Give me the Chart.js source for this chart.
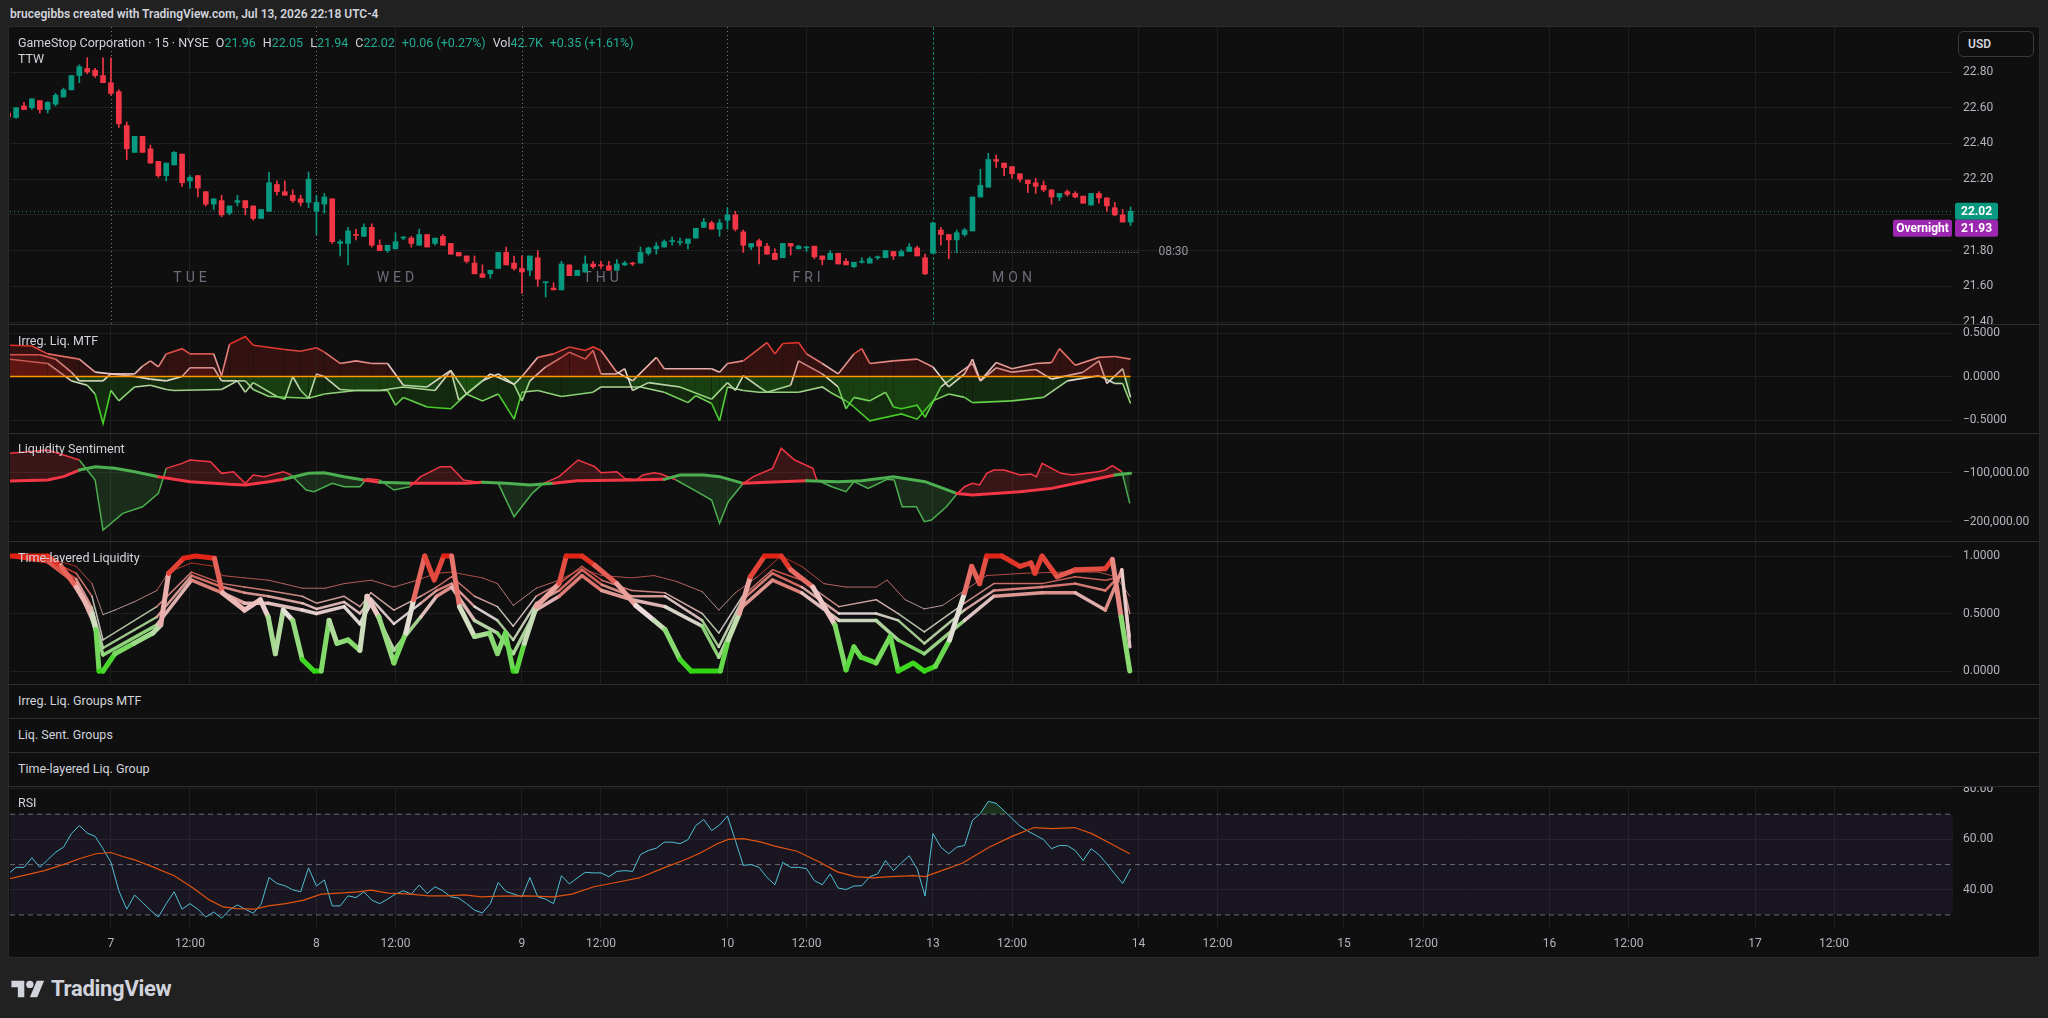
<!DOCTYPE html>
<html>
<head>
<meta charset="utf-8">
<script src="https://cdn.jsdelivr.net/npm/chart.js@4.4.1/dist/chart.umd.min.js"></script>
<style>
  html, body { margin: 0; padding: 0; }
  body { width: 2048px; height: 1018px; background: #212121; overflow: hidden; position: relative;
         font-family: Roboto, "Liberation Sans", sans-serif; color: #d1d4dc; }
  #hdr { position: absolute; left: 10px; top: 7px; font-size: 12px; font-weight: 600; color: #d1d4dc; }
  #frame { position: absolute; left: 8px; top: 26px; width: 2032px; height: 932px; box-sizing: border-box;
           background: #0f0f0f; border: 1px solid #2a2a2a; }
  .pane { position: absolute; left: 10px; width: 2028px; z-index: 1; }
  .sep { position: absolute; left: 9px; width: 2030px; height: 1px; background: #2f2f2f; z-index: 2; }
  .lbl { position: absolute; font-size: 12.5px; color: #d1d4dc; transform: translateY(-50%); white-space: nowrap; z-index: 3; }
  #title { display: flex; gap: 7px; }
  .v { color: #22ab94; }
  #usd { position: absolute; left: 1958px; top: 31px; width: 76px; height: 26px; box-sizing: border-box;
         border: 1px solid #3a3a3a; border-radius: 5px; background: #0f0f0f; z-index: 3;
         font-size: 12px; font-weight: 600; line-height: 24px; padding-left: 9px; color: #d1d4dc; }
  #logo { position: absolute; left: 11px; top: 976px; display: flex; align-items: center; gap: 6px; z-index: 3; }
  #logo span { font-size: 22px; font-weight: 700; color: #d1d4dc; letter-spacing: -0.3px; }
</style>
</head>
<body>
<div id="hdr">brucegibbs created with TradingView.com, Jul 13, 2026 22:18 UTC-4</div>
<div id="frame"></div>

<div class="pane" style="top:27px;height:297px"><canvas id="cPrice"></canvas></div>
<div class="sep" style="top:324px"></div>
<div class="pane" style="top:325px;height:108px"><canvas id="cIrreg"></canvas></div>
<div class="sep" style="top:433px"></div>
<div class="pane" style="top:434px;height:107px"><canvas id="cSent"></canvas></div>
<div class="sep" style="top:541px"></div>
<div class="pane" style="top:542px;height:142px"><canvas id="cTll"></canvas></div>
<div class="sep" style="top:684px"></div>
<div class="sep" style="top:718px"></div>
<div class="sep" style="top:752px"></div>
<div class="sep" style="top:786px"></div>
<div class="pane" style="top:787px;height:170px"><canvas id="cRsi"></canvas></div>

<div class="lbl" id="title" style="top:42px;left:18px">
  <span>GameStop Corporation · 15 · NYSE</span>
  <span>O<span class="v">21.96</span></span>
  <span>H<span class="v">22.05</span></span>
  <span>L<span class="v">21.94</span></span>
  <span>C<span class="v">22.02</span></span>
  <span class="v">+0.06 (+0.27%)</span>
  <span>Vol<span class="v">42.7K</span></span>
  <span class="v">+0.35 (+1.61%)</span>
</div>
<div class="lbl" style="top:58px;left:18px">TTW</div>
<div id="usd">USD</div>

<div class="lbl" style="top:340px;left:18px">Irreg. Liq. MTF</div>
<div class="lbl" style="top:448px;left:18px">Liquidity Sentiment</div>
<div class="lbl" style="top:557px;left:18px">Time-layered Liquidity</div>
<div class="lbl" style="top:700px;left:18px">Irreg. Liq. Groups MTF</div>
<div class="lbl" style="top:734px;left:18px">Liq. Sent. Groups</div>
<div class="lbl" style="top:768px;left:18px">Time-layered Liq. Group</div>
<div class="lbl" style="top:802px;left:18px">RSI</div>

<div id="logo">
  <svg width="34" height="24" viewBox="0 0 36 26"><path d="M14 22H7V11H0V4h14v18z" fill="#d1d4dc"/><circle cx="20" cy="8" r="4" fill="#d1d4dc"/><path d="M28 22h-8l7.5-18h8z" fill="#d1d4dc"/></svg>
  <span>TradingView</span>
</div>

<script>
const GREEN = '#089981';
const RED = '#f23645';
const GRID = '#1f1f1f';
const TEXT = '#b2b5be';
const FONT = 'Roboto, "Liberation Sans", sans-serif';
Chart.defaults.font.family = FONT;

// ---- time axis (bar index units, 26 bars of 15 min per session) ----
const xMin = 0.23, xMax = 246.05;
const timeTickPos = [13, 23, 39, 49, 65, 75, 91, 101, 117, 127, 143, 153, 169, 179, 195, 205, 221, 231];
const timeTickLabels = ['7', '12:00', '8', '12:00', '9', '12:00', '10', '12:00', '13', '12:00', '14', '12:00', '15', '12:00', '16', '12:00', '17', '12:00'];
const sessionStarts = [13, 39, 65, 91, 117];
const weekdayPos = [23, 49, 75, 101, 127];
const weekdayNames = ['TUE', 'WED', 'THU', 'FRI', 'MON'];

// ---- candles ----
const opens = [
  22.57,22.545,22.61,22.60,22.64,22.59,22.62,22.66,22.70,22.78,
  22.82,22.81,22.78,22.74,22.69,22.50,22.35,22.44,22.37,22.30,
  22.22,22.28,22.34,22.19,22.22,22.13,22.06,22.08,22.01,22.07,
  22.08,22.05,21.98,22.02,22.17,22.13,22.11,22.09,22.07,22.02,
  22.06,22.09,21.84,21.84,21.89,21.88,21.93,21.83,21.80,21.81,
  21.87,21.87,21.83,21.89,21.84,21.88,21.84,21.79,21.77,21.73,
  21.67,21.67,21.70,21.79,21.73,21.70,21.69,21.76,21.62,21.59,
  21.58,21.72,21.66,21.68,21.725,21.72,21.715,21.69,21.72,21.73,
  21.73,21.785,21.81,21.82,21.85,21.845,21.84,21.87,21.93,21.955,
  21.92,21.97,22.00,21.905,21.82,21.855,21.825,21.785,21.76,21.84,
  21.81,21.815,21.825,21.77,21.75,21.785,21.74,21.71,21.735,21.73,
  21.76,21.76,21.795,21.77,21.795,21.815,21.76,21.785,21.915,21.89,
  21.86,21.89,21.91,22.10,22.155,22.31,22.29,22.27,22.23,22.195,
  22.18,22.165,22.14,22.10,22.13,22.12,22.105,22.055,22.12,22.095,
  22.04,22.00,21.96
];
const highs = [
  22.58,22.60,22.63,22.65,22.64,22.635,22.68,22.71,22.78,22.84,
  22.88,22.82,22.88,22.88,22.70,22.52,22.44,22.44,22.39,22.30,
  22.29,22.355,22.34,22.22,22.22,22.13,22.09,22.11,22.05,22.11,
  22.08,22.05,22.03,22.24,22.19,22.19,22.14,22.11,22.24,22.11,
  22.12,22.09,21.86,21.93,21.92,21.95,21.95,21.86,21.83,21.90,
  21.88,21.88,21.92,21.89,21.87,21.89,21.84,21.79,21.77,21.77,
  21.72,21.69,21.79,21.82,21.77,21.77,21.77,21.80,21.625,21.62,
  21.74,21.72,21.69,21.77,21.74,21.74,21.74,21.75,21.74,21.735,
  21.82,21.82,21.845,21.86,21.875,21.87,21.865,21.925,21.98,21.965,
  21.975,22.04,22.02,21.915,21.84,21.865,21.84,21.81,21.84,21.84,
  21.83,21.825,21.825,21.77,21.80,21.785,21.755,21.735,21.76,21.765,
  21.77,21.80,21.795,21.805,21.84,21.825,21.78,21.96,21.93,21.89,
  21.915,21.925,22.10,22.255,22.345,22.335,22.29,22.27,22.23,22.195,
  22.205,22.19,22.14,22.12,22.14,22.13,22.105,22.12,22.13,22.095,
  22.07,22.03,22.045
];
const lows = [
  22.54,22.54,22.59,22.59,22.57,22.57,22.61,22.66,22.70,22.74,
  22.79,22.77,22.74,22.67,22.49,22.31,22.35,22.35,22.29,22.21,
  22.19,22.28,22.16,22.15,22.10,22.05,22.03,21.99,22.00,22.05,
  22.00,21.97,21.98,22.02,22.11,22.11,22.07,22.05,22.04,21.89,
  22.01,21.84,21.77,21.72,21.86,21.88,21.82,21.80,21.79,21.81,
  21.86,21.82,21.83,21.82,21.83,21.83,21.78,21.77,21.73,21.67,
  21.65,21.645,21.70,21.72,21.69,21.56,21.66,21.60,21.54,21.58,
  21.58,21.66,21.66,21.68,21.70,21.70,21.69,21.69,21.715,21.715,
  21.73,21.775,21.78,21.82,21.83,21.83,21.81,21.87,21.93,21.92,
  21.88,21.92,21.91,21.79,21.805,21.725,21.78,21.75,21.76,21.775,
  21.81,21.795,21.755,21.72,21.75,21.725,21.72,21.705,21.73,21.73,
  21.75,21.76,21.75,21.77,21.795,21.77,21.665,21.785,21.83,21.755,
  21.79,21.88,21.91,22.10,22.155,22.265,22.22,22.205,22.185,22.125,
  22.12,22.13,22.06,22.08,22.105,22.095,22.065,22.055,22.065,22.02,
  21.995,21.96,21.94
];
const closes = [
  22.55,22.60,22.59,22.65,22.59,22.63,22.67,22.70,22.78,22.83,
  22.80,22.78,22.74,22.68,22.51,22.37,22.44,22.35,22.29,22.22,
  22.29,22.35,22.18,22.21,22.15,22.06,22.09,22.00,22.05,22.08,
  22.04,21.98,22.03,22.18,22.13,22.11,22.08,22.07,22.20,22.07,
  22.10,21.85,21.85,21.91,21.885,21.93,21.83,21.80,21.83,21.85,
  21.875,21.84,21.89,21.82,21.87,21.83,21.78,21.77,21.74,21.67,
  21.65,21.69,21.79,21.72,21.70,21.68,21.77,21.64,21.625,21.58,
  21.725,21.66,21.69,21.725,21.71,21.715,21.69,21.725,21.73,21.725,
  21.79,21.815,21.825,21.85,21.855,21.85,21.865,21.925,21.96,21.92,
  21.955,22.00,21.92,21.83,21.84,21.825,21.78,21.75,21.84,21.825,
  21.825,21.82,21.765,21.75,21.785,21.725,21.72,21.735,21.74,21.755,
  21.764,21.80,21.77,21.795,21.82,21.77,21.67,21.955,21.89,21.86,
  21.90,21.915,22.10,22.165,22.31,22.30,22.265,22.23,22.20,22.175,
  22.16,22.14,22.10,22.12,22.115,22.10,22.065,22.12,22.095,22.05,
  22.00,21.96,22.02
];
const overnightPrice = 21.93;
const rangeLineX = [117, 143];
const rangeLineLevel = 21.79;
const priceTicks = [21.4, 21.6, 21.8, 22.0, 22.2, 22.4, 22.6, 22.8];

// ---- Irreg. Liq. MTF: [bar, value] ----
const irregA = [[0,0.36],[3,0.35],[5,0.26],[9,0.20],[11,0.05],[13,0.03],[16,0.03],[17,0.12],[18,0.18],[19,0.11],[20,0.26],[22,0.32],[23,0.26],[26,0.26],[27,0.01],[28,0.37],[30,0.46],[31,0.36],[35,0.31],[37,0.29],[39,0.33],[40,0.28],[42,0.15],[44,0.18],[46,0.15],[48,0.15],[50,-0.10],[53,-0.12],[56,0.07],[58,-0.20],[60,-0.05],[62,0.03],[64,-0.09],[65,0.0],[67,0.22],[69,0.26],[71,0.34],[73,0.30],[74,0.34],[75,0.30],[77,0.05],[79,-0.05],[82,0.22],[83,0.09],[86,0.09],[89,0.09],[90,0.05],[91,0.15],[93,0.18],[96,0.39],[97,0.26],[98,0.38],[100,0.39],[101,0.26],[103,0.15],[105,0.03],[107,0.26],[108,0.32],[109,0.15],[112,0.18],[115,0.20],[117,0.11],[119,-0.12],[121,0.03],[122,0.20],[123,-0.05],[125,0.16],[127,0.09],[130,0.15],[132,0.16],[133,0.32],[135,0.13],[138,0.22],[140,0.23],[142,0.20]];
const irregB = [[0,0.25],[4,0.25],[6,0.20],[8,0.05],[9,-0.05],[12,-0.05],[13,0.03],[16,0.0],[18,-0.03],[20,-0.05],[22,0.0],[23,0.10],[26,0.10],[27,-0.05],[29,-0.05],[30,-0.18],[31,-0.07],[34,-0.23],[35,-0.26],[36,0.0],[37,-0.16],[38,-0.25],[39,0.03],[40,0.0],[42,-0.15],[44,-0.16],[47,-0.16],[50,-0.12],[54,-0.16],[56,0.07],[57,-0.27],[60,-0.05],[61,0.03],[64,-0.09],[65,-0.28],[66,-0.05],[68,0.11],[70,0.22],[71,0.28],[73,0.20],[74,0.30],[75,0.03],[77,0.03],[78,0.09],[79,-0.16],[81,-0.07],[85,-0.12],[89,-0.26],[91,-0.07],[92,-0.16],[93,0.01],[95,-0.12],[96,-0.18],[99,-0.10],[100,0.18],[103,0.03],[105,-0.12],[106,-0.37],[107,-0.24],[109,-0.28],[111,-0.18],[112,-0.35],[113,-0.37],[115,-0.33],[116,-0.47],[118,-0.12],[120,0.02],[122,0.15],[123,-0.05],[125,0.10],[127,0.05],[130,0.08],[132,-0.03],[134,0.01],[136,0.05],[138,0.18],[139,-0.08],[141,0.09],[142,-0.24]];
const irregC = [[0,0.20],[5,0.15],[8,-0.05],[10,-0.10],[11,-0.20],[12,-0.54],[13,-0.16],[14,-0.28],[16,-0.12],[18,-0.10],[20,-0.15],[21,-0.16],[27,-0.15],[29,-0.05],[30,-0.05],[31,-0.15],[33,-0.23],[38,-0.25],[40,-0.20],[44,-0.16],[48,-0.16],[49,-0.33],[50,-0.24],[53,-0.35],[56,-0.37],[58,-0.20],[60,-0.28],[62,-0.20],[64,-0.49],[65,-0.18],[67,-0.16],[70,-0.23],[74,-0.18],[75,-0.12],[80,-0.12],[83,-0.18],[86,-0.30],[87,-0.22],[89,-0.31],[90,-0.51],[91,-0.12],[93,-0.16],[95,-0.18],[100,-0.18],[103,-0.12],[104,-0.18],[106,-0.28],[107,-0.35],[109,-0.51],[113,-0.43],[115,-0.49],[117,-0.28],[119,-0.20],[121,-0.24],[122,-0.30],[127,-0.28],[131,-0.24],[134,-0.05],[138,0.01],[140,-0.08],[141,-0.08],[142,-0.31]];
const irregTicks = [-0.5, 0, 0.5];

// ---- Liquidity Sentiment: [bar, value] ----
const sentBase = [[0,-116400],[5,-114300],[7,-107500],[9,-93900],[11,-87100],[13.5,-90500],[16,-97300],[19,-107500],[23,-117700],[28,-123200],[30,-124500],[33,-117700],[35,-112300],[38,-100700],[40,-99400],[42.5,-107500],[45,-114300],[47,-119100],[51,-121100],[58,-121100],[60,-119100],[63,-121100],[66,-124500],[69,-121100],[72,-115700],[79,-114300],[83,-113000],[85,-104100],[88,-104100],[90,-107500],[93,-121100],[96,-119100],[101,-115700],[105,-117700],[108,-115700],[112,-107500],[116,-117700],[120,-141600],[122,-145000],[128,-138200],[132,-131400],[136,-117700],[140,-104100],[142,-100700]];
const sentFast = [[0,-59900],[5,-53100],[9,-73500],[11,-114300],[12,-216400],[14.5,-182400],[17,-168800],[19,-141600],[20,-90500],[22,-80300],[23,-73500],[25.6,-76900],[27,-100700],[28.5,-97300],[30,-121100],[31,-104100],[32.4,-107500],[34.8,-97300],[35.8,-104100],[37.7,-134800],[38.7,-138200],[41,-121100],[42.5,-128000],[44.5,-128000],[45.4,-111000],[47,-114300],[48.8,-134800],[50.8,-128000],[52.2,-107500],[54.7,-87100],[56,-87100],[57.6,-114300],[59.5,-119100],[62,-121100],[64,-189200],[66.3,-141600],[67.7,-121100],[69.7,-107500],[72.1,-73500],[74.2,-87100],[75,-99400],[77,-97300],[78,-111000],[79.4,-114300],[80.3,-104100],[81.7,-99400],[82.6,-102100],[84.5,-114300],[86.8,-134800],[89,-155200],[90,-202800],[91.1,-158600],[93,-121100],[94.3,-107500],[96.7,-90500],[97.8,-49700],[99.5,-73500],[101.8,-90500],[102.3,-114300],[104.2,-128000],[106,-138200],[107,-117700],[108.8,-131400],[111.2,-113000],[112.1,-114300],[113.1,-168800],[114.9,-168800],[115.9,-199400],[116.8,-196000],[118.7,-168800],[120.1,-141600],[121,-128000],[122,-121100],[122.9,-124500],[123.8,-100700],[124.7,-93900],[126,-93900],[128,-104100],[129.4,-102100],[130.1,-107500],[130.8,-80300],[133.2,-100700],[134.6,-104100],[137.9,-97300],[138.8,-93900],[139.7,-85100],[140.9,-97300],[141.9,-162000]];
const sentTicks = [-200000, -100000];

// ---- Time-layered Liquidity: five layers, slow (L1) to fast (L5) ----
const tllL1 = [[0,1.0],[4.8,0.99],[8.6,0.91],[10.6,0.76],[12,0.49],[13.5,0.53],[15.9,0.60],[18.8,0.70],[20.3,0.86],[23.2,0.94],[26.1,0.91],[27.1,0.83],[29.9,0.81],[32.9,0.79],[34.8,0.76],[37.2,0.72],[40.1,0.72],[42.5,0.76],[45.9,0.79],[48.8,0.73],[51.3,0.78],[54.2,0.85],[56.1,0.86],[60,0.81],[61.9,0.76],[63.9,0.57],[66.8,0.72],[69.7,0.79],[72.6,0.89],[75.1,0.83],[78.9,0.81],[81.7,0.83],[84.5,0.78],[87.8,0.69],[89.9,0.53],[92,0.68],[94.8,0.82],[97.8,1.0],[100.4,0.91],[103.2,0.76],[106,0.73],[109.8,0.73],[111.2,0.79],[113.5,0.62],[115.9,0.54],[118.2,0.57],[121,0.70],[123.8,0.83],[128.5,0.85],[133.2,0.86],[137.9,0.86],[140.2,0.82],[141.9,0.65]];
const tllMidX = [0,5,8.6,10.6,12,18.8,23.2,27.1,29.9,32.9,37.2,39,42.5,44.5,45.9,48.8,52.2,54.2,56.1,59,61.9,63.9,66.8,69.7,72.6,75.1,78.9,83.1,87.8,89.9,92.9,96.7,100.4,105.1,109.8,112.6,115.9,121,124.7,130.8,135,138.8,140.9,141.9];
const tllL2 = [1.0,0.97,0.85,0.65,0.27,0.56,0.86,0.76,0.73,0.70,0.65,0.59,0.65,0.56,0.68,0.53,0.65,0.73,0.82,0.65,0.56,0.39,0.65,0.76,0.91,0.79,0.70,0.68,0.50,0.33,0.65,0.88,0.79,0.56,0.62,0.50,0.34,0.59,0.76,0.76,0.82,0.79,0.82,0.50];
const tllL3 = [1.0,0.96,0.80,0.55,0.20,0.47,0.83,0.73,0.68,0.65,0.59,0.54,0.60,0.50,0.63,0.41,0.59,0.70,0.76,0.56,0.44,0.27,0.59,0.70,0.88,0.75,0.65,0.65,0.44,0.21,0.62,0.85,0.73,0.50,0.50,0.44,0.24,0.53,0.70,0.73,0.76,0.70,0.85,0.30];
const tllL4 = [1.0,0.95,0.76,0.45,0.14,0.40,0.79,0.68,0.59,0.59,0.53,0.50,0.56,0.41,0.59,0.18,0.47,0.65,0.73,0.44,0.33,0.15,0.53,0.65,0.83,0.70,0.62,0.56,0.39,0.12,0.56,0.79,0.68,0.44,0.44,0.27,0.15,0.44,0.65,0.68,0.68,0.53,0.88,0.21];
const tllL5 = [[0,1.0],[5,1.0],[6.7,0.91],[8.6,0.73],[10.6,0.5],[11.1,0.36],[11.5,0],[12,0],[13.5,0.15],[15.9,0.24],[18.3,0.33],[19.3,0.40],[20.3,0.85],[22.2,0.98],[23.7,1.0],[26.1,0.98],[27.1,0.68],[29.9,0.53],[31.9,0.62],[32.9,0.47],[33.8,0.15],[34.8,0.53],[36,0.44],[37.2,0.10],[38.7,0],[39.6,0],[40.6,0.44],[41.6,0.24],[43,0.27],[44.5,0.18],[45.4,0.65],[46.9,0.47],[48.8,0.07],[50.3,0.33],[51.3,0.62],[52.7,1.0],[53.9,0.79],[55.1,1.0],[56.1,1.0],[57.1,0.56],[59,0.30],[60.9,0.33],[61.9,0.15],[62.9,0.33],[63.9,0],[64.3,0],[65.3,0.24],[66.8,0.56],[69.7,0.76],[70.6,1.0],[72.6,1.0],[74.2,0.92],[77,0.76],[79.4,0.57],[81.7,0.44],[83.1,0.36],[85,0.10],[86.4,0],[90.1,0],[91.1,0.27],[92.5,0.5],[93.9,0.82],[95.7,1.0],[97.8,1.0],[99,0.88],[101.8,0.73],[104.6,0.40],[106,0.01],[107,0.21],[107.9,0.12],[109.8,0.07],[111.6,0.30],[112.6,0],[114.5,0.07],[115.9,0],[117.3,0.04],[119.1,0.27],[121,0.68],[121.9,0.91],[122.9,0.76],[123.8,1.0],[125.7,1.0],[128,0.91],[129.4,0.94],[129.9,0.85],[130.8,1.0],[132.7,0.82],[135,0.88],[138.8,0.89],[139.7,0.97],[140.8,0.47],[141.9,0]];
const tllTicks = [0, 0.5, 1];

// ---- RSI (one value per bar) and its moving average [bar, value] ----
const rsi = [
  46.3,48.9,48.9,52.7,48.9,51.9,54.9,56.9,62.3,65.5,
  62.5,61.2,56.3,50.9,39.6,32.3,37.9,34.9,31.9,29.2,
  34.5,39.2,32.3,34.5,32.3,29.2,31.2,28.7,32.0,34.0,
  32.3,30.7,34.3,44.9,42.5,41.6,40.0,39.2,48.7,41.5,
  43.9,33.6,33.6,37.6,36.9,39.2,35.9,34.5,36.3,38.3,
  39.6,38.3,41.9,38.5,41.2,39.6,37.2,36.7,34.5,31.9,
  30.8,34.5,42.9,39.3,38.3,37.2,44.9,37.2,36.3,34.5,
  45.6,42.3,44.7,46.9,46.7,46.7,45.2,47.3,47.6,47.3,
  54.0,55.6,56.5,58.9,58.9,58.3,59.9,65.5,67.9,63.5,
  65.7,69.3,59.6,49.7,50.0,48.9,44.9,42.0,50.9,48.9,
  48.9,48.4,43.6,42.0,46.3,40.7,40.1,41.5,41.6,45.2,
  46.3,51.6,47.6,50.7,53.5,48.3,37.5,62.3,56.9,54.3,
  56.9,57.6,67.6,70.3,75.1,74.3,71.3,68.3,65.3,63.3,
  61.6,59.9,56.3,57.6,57.5,55.6,51.6,56.3,53.9,50.3,
  46.3,42.5,48.3
];
const rsiMa = [[0,44.3],[4.6,47.6],[7.4,50.5],[9.1,52.4],[11.1,54.3],[13,54.8],[14.5,53.2],[15.9,52.0],[18.2,49.2],[21,45.6],[23.3,40.9],[25.5,35.9],[27.2,33.2],[28.9,32.5],[31.2,32.3],[32.9,33.6],[35.1,34.5],[37.4,35.9],[39.6,38.3],[41.9,38.7],[44.2,39.2],[45.9,39.9],[48.1,38.7],[50.9,38.3],[53.2,37.6],[55.5,37.6],[57.7,38.0],[59.9,37.2],[62.2,37.5],[65.6,37.6],[69,37.2],[71.3,38.3],[74.1,41.2],[76.9,42.9],[79.8,44.7],[83.1,48.9],[85.4,51.6],[87.5,54.5],[89.7,58.3],[91.1,60.0],[93,60.3],[95.3,58.9],[97,57.3],[99.8,55.3],[102.7,50.9],[104.9,47.1],[107.2,45.2],[109.4,44.7],[111.7,45.2],[114.5,45.6],[116,45.2],[117.4,46.8],[120.7,50.5],[124.1,56.9],[127,61.2],[129.8,64.7],[132,64.3],[134.9,64.7],[137.1,62.3],[139.4,58.5],[141.9,54.3]];
const rsiLevels = [70, 50, 30];
const rsiTicks = [40, 60, 80];

// ---- helpers ----
const pts = arr => arr.map(([x, y]) => ({ x, y }));
const seq = arr => arr.map((y, x) => ({ x, y }));
const zip = (xs, ys) => xs.map((x, k) => ({ x, y: ys[k] }));
const mix = (a, b, t, al) => `rgba(${a.map((c, k) => Math.round(c + (b[k] - c) * t)).join(',')},${al})`;
const avgY = c => (c.p0.parsed.y + c.p1.parsed.y) / 2;

function valueAt(list, x) {
  if (x <= list[0][0]) return list[0][1];
  for (let k = 1; k < list.length; k++) {
    if (x <= list[k][0]) {
      const [x0, y0] = list[k - 1], [x1, y1] = list[k];
      return y0 + (y1 - y0) * (x - x0) / (x1 - x0);
    }
  }
  return list[list.length - 1][1];
}

function makeX(showLabels, gridColor) {
  return {
    type: 'linear', min: xMin, max: xMax, offset: false,
    afterBuildTicks: s => { s.ticks = timeTickPos.map(v => ({ value: v })); },
    afterFit: s => { s.height = showLabels ? 28 : 0; s.paddingLeft = 0; s.paddingRight = 0; },
    grid: { color: gridColor || GRID, drawTicks: false, offset: false },
    border: { display: false },
    ticks: {
      display: showLabels, autoSkip: false, maxRotation: 0, padding: 8,
      color: TEXT, font: { size: 12 },
      callback: v => timeTickLabels[timeTickPos.indexOf(v)]
    }
  };
}

function makeY(min, max, tickVals, fmt) {
  return {
    position: 'right', min, max,
    afterBuildTicks: s => { s.ticks = tickVals.map(v => ({ value: v })); },
    afterFit: s => { s.width = 85; s.paddingTop = 0; s.paddingBottom = 0; },
    grid: { color: GRID, drawTicks: false },
    border: { display: false },
    ticks: { autoSkip: false, padding: 10, color: TEXT, font: { size: 12 }, callback: fmt }
  };
}

function paneChart(id, type, datasets, yScale, showX, xGrid, plugins) {
  return new Chart(document.getElementById(id), {
    type,
    data: { datasets },
    options: {
      responsive: true, maintainAspectRatio: false, animation: false,
      layout: { padding: 0 },
      plugins: { legend: { display: false }, tooltip: { enabled: false } },
      elements: { point: { radius: 0 }, line: { tension: 0 } },
      scales: { x: makeX(showX, xGrid), y: yScale }
    },
    plugins: plugins || []
  });
}

const minus = s => s.replace('-', '\u2212');

// ---- price pane ----
const candleColor = i => closes[i] >= opens[i] ? GREEN : RED;
const lastClose = closes[closes.length - 1];

function roundBox(ctx, x, y, w, h, fill) {
  ctx.fillStyle = fill;
  ctx.beginPath();
  ctx.roundRect(x, y, w, h, 2);
  ctx.fill();
}

const priceDecor = {
  id: 'priceDecor',
  beforeDatasetsDraw(chart) {
    const { ctx, chartArea: a, scales: { x } } = chart;
    ctx.save();
    sessionStarts.forEach((s, k) => {
      const px = Math.round(x.getPixelForValue(s)) + 0.5;
      const last = k === sessionStarts.length - 1;
      ctx.strokeStyle = last ? 'rgba(8,153,129,0.8)' : 'rgba(140,143,154,0.8)';
      ctx.lineWidth = 1;
      ctx.setLineDash(last ? [3, 2] : [1, 3]);
      ctx.beginPath(); ctx.moveTo(px, a.top); ctx.lineTo(px, a.bottom); ctx.stroke();
    });
    ctx.setLineDash([]);
    ctx.fillStyle = '#6b6e78';
    ctx.font = `14px ${FONT}`;
    ctx.letterSpacing = '4px';
    ctx.textAlign = 'center';
    ctx.textBaseline = 'middle';
    weekdayNames.forEach((w, k) => ctx.fillText(w, x.getPixelForValue(weekdayPos[k]) + 2, a.bottom - 46));
    ctx.restore();
  },
  afterDraw(chart) {
    const { ctx, chartArea: a, scales: { x, y } } = chart;
    ctx.save();
    // 08:30 level tag
    ctx.fillStyle = '#9598a1';
    ctx.font = `12px ${FONT}`;
    ctx.textAlign = 'left';
    ctx.textBaseline = 'middle';
    ctx.fillText('08:30', x.getPixelForValue(rangeLineX[1]) + 20, y.getPixelForValue(rangeLineLevel));
    // last price & overnight tags
    const yl = y.getPixelForValue(lastClose);
    const bx = a.right + 2, bw = 43, bh = 17;
    roundBox(ctx, bx, yl - bh / 2, bw, bh, GREEN);
    const y2 = yl + bh / 2;
    roundBox(ctx, bx, y2, bw, bh, '#9c27b0');
    roundBox(ctx, a.right - 60, y2, 59, bh, '#9c27b0');
    ctx.fillStyle = '#ffffff';
    ctx.font = `bold 12px ${FONT}`;
    ctx.textAlign = 'center';
    ctx.fillText(lastClose.toFixed(2), bx + bw / 2, yl + 0.5);
    ctx.fillText(overnightPrice.toFixed(2), bx + bw / 2, y2 + bh / 2 + 0.5);
    ctx.fillText('Overnight', a.right - 30.5, y2 + bh / 2 + 0.5);
    ctx.restore();
  }
};

paneChart('cPrice', 'bar', [
  {
    type: 'bar', grouped: false, barThickness: 5, minBarLength: 1, borderWidth: 0,
    data: opens.map((o, i) => ({ x: i, y: [o, closes[i]] })),
    backgroundColor: c => candleColor(c.dataIndex)
  },
  {
    type: 'bar', grouped: false, barThickness: 1, borderWidth: 0,
    data: lows.map((l, i) => ({ x: i, y: [l, highs[i]] })),
    backgroundColor: c => candleColor(c.dataIndex)
  },
  {
    type: 'line', borderColor: 'rgba(160,163,172,0.8)', borderWidth: 1, borderDash: [1, 2], pointRadius: 0,
    data: rangeLineX.map(v => ({ x: v, y: rangeLineLevel }))
  },
  {
    type: 'line', borderColor: GREEN, borderWidth: 1, borderDash: [1, 3], pointRadius: 0,
    data: [{ x: xMin, y: lastClose }, { x: xMax, y: lastClose }]
  }
], makeY(21.389, 23.052, priceTicks, v => v.toFixed(2)), false,
  c => (c.tick && sessionStarts.includes(c.tick.value)) ? 'rgba(0,0,0,0)' : GRID,
  [priceDecor]);

// ---- Irreg. Liq. MTF ----
const WHITE = [232, 218, 218];
const irregColor = v => v >= 0
  ? mix(WHITE, [226, 48, 38], Math.min(1, v / 0.35), 1)
  : mix(WHITE, [70, 205, 40], Math.min(1, -v / 0.35), 1);
const irregLine = (list) => ({
  type: 'line', data: pts(list), borderWidth: 1.6, pointRadius: 0,
  borderColor: '#ddd',
  segment: { borderColor: c => irregColor(avgY(c)) },
  fill: { target: 'origin', above: 'rgba(160,30,25,0.24)', below: 'rgba(40,140,20,0.22)' }
});
const lastBar = closes.length - 1;
paneChart('cIrreg', 'line', [
  { type: 'line', data: [{ x: 0, y: 0 }, { x: lastBar, y: 0 }], borderColor: '#ff9800', borderWidth: 1.5, pointRadius: 0 },
  irregLine(irregA),
  irregLine(irregB),
  irregLine(irregC)
], makeY(-0.649, 0.592, irregTicks, v => minus(v.toFixed(4))), false);

// ---- Liquidity Sentiment ----
const SENT_RED = '#f23645', SENT_GREEN = '#4caf50';
const fastAbove = x => valueAt(sentFast, x) >= valueAt(sentBase, x);
paneChart('cSent', 'line', [
  {
    type: 'line', data: pts(sentBase), borderWidth: 3, pointRadius: 0, borderColor: SENT_RED,
    borderCapStyle: 'round',
    segment: { borderColor: c => fastAbove((c.p0.parsed.x + c.p1.parsed.x) / 2) ? SENT_RED : SENT_GREEN }
  },
  {
    type: 'line', data: pts(sentFast), borderWidth: 1.5, pointRadius: 0, borderColor: SENT_RED,
    segment: { borderColor: c => fastAbove((c.p0.parsed.x + c.p1.parsed.x) / 2) ? SENT_RED : SENT_GREEN },
    fill: { target: 0, above: 'rgba(242,54,69,0.18)', below: 'rgba(76,175,80,0.18)' }
  }
], makeY(-238776, -20408, sentTicks,
  v => minus(v.toLocaleString('en-US', { minimumFractionDigits: 2, maximumFractionDigits: 2 }))), false);

// ---- Time-layered Liquidity ----
const tllColor = (v, al) => v >= 0.5
  ? mix([236, 222, 222], [226, 34, 20], Math.min(1, (v - 0.5) * 2), al)
  : mix([236, 222, 222], [48, 214, 16], Math.min(1, (0.5 - v) * 2), al);
const tllLine = (data, w, al) => ({
  type: 'line', data, borderWidth: w, pointRadius: 0, borderColor: '#ddd',
  borderCapStyle: 'round', borderJoinStyle: 'round',
  segment: { borderColor: c => tllColor(avgY(c), al) }
});
paneChart('cTll', 'line', [
  tllLine(pts(tllL5), 5, 1),
  tllLine(zip(tllMidX, tllL4), 3.5, 0.95),
  tllLine(zip(tllMidX, tllL3), 2.5, 0.9),
  tllLine(zip(tllMidX, tllL2), 1.5, 0.85),
  tllLine(pts(tllL1), 1, 0.75)
], makeY(-0.113, 1.122, tllTicks, v => v.toFixed(4)), false);

// ---- RSI ----
const hline = (level, extra) => Object.assign({
  type: 'line', pointRadius: 0, borderWidth: 1, borderColor: 'rgba(120,123,134,0.85)', borderDash: [5, 4],
  data: [{ x: xMin, y: level }, { x: xMax, y: level }]
}, extra || {});
paneChart('cRsi', 'line', [
  { type: 'line', data: pts(rsiMa), borderColor: '#e0530f', borderWidth: 1.2, pointRadius: 0 },
  {
    type: 'line', data: seq(rsi), borderColor: '#4fbfd6', borderWidth: 1, pointRadius: 0,
    fill: { target: { value: rsiLevels[0] }, above: 'rgba(76,175,80,0.22)', below: 'rgba(0,0,0,0)' }
  },
  hline(rsiLevels[1]),
  hline(rsiLevels[2]),
  hline(rsiLevels[0], { fill: { target: { value: rsiLevels[2] }, above: 'rgba(126,87,194,0.1)', below: 'rgba(126,87,194,0.1)' } })
], makeY(24.44, 80.79, rsiTicks, v => v.toFixed(2)), true);
</script>
</body>
</html>
